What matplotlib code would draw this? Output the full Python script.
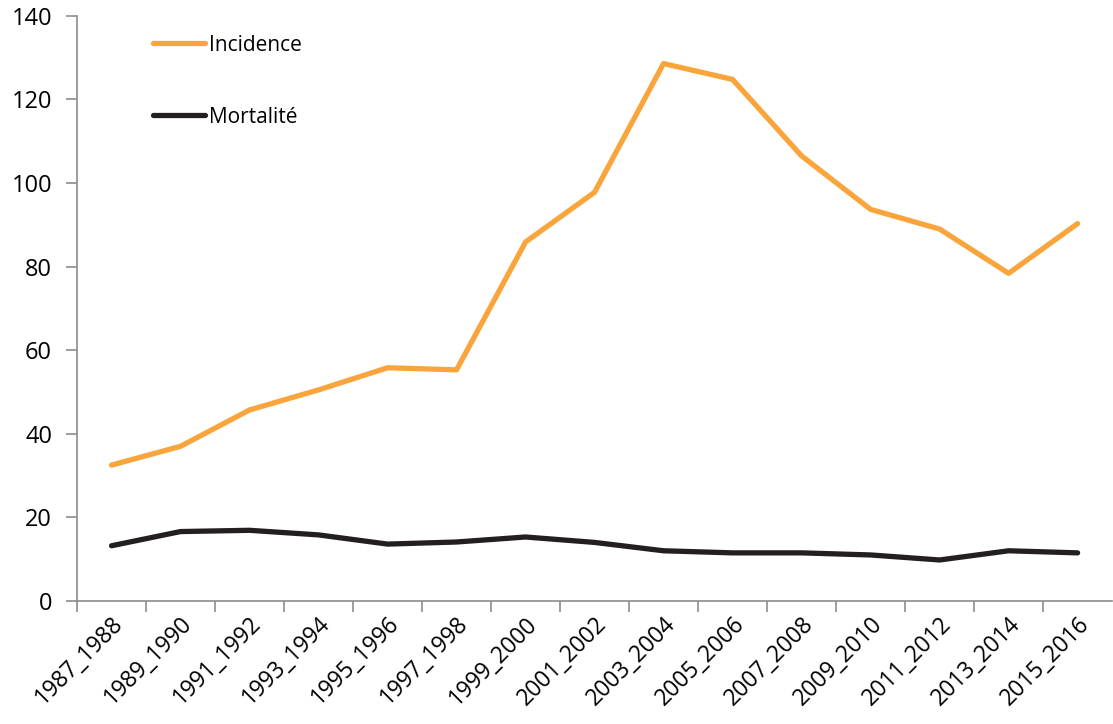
import matplotlib
matplotlib.use("Agg")
import matplotlib.pyplot as plt
import numpy as np

periodes = ["1987_1988", "1989_1990", "1991_1992", "1993_1994", "1995_1996",
            "1997_1998", "1999_2000", "2001_2002", "2003_2004", "2005_2006",
            "2007_2008", "2009_2010", "2011_2012", "2013_2014", "2015_2016"]
incidence = [32.5, 37.0, 45.7, 50.5, 55.8, 55.3, 85.9, 97.8, 128.6, 124.8,
             106.5, 93.7, 89.0, 78.4, 90.3]
mortalite = [13.2, 16.6, 16.9, 15.8, 13.6, 14.1, 15.3, 14.0, 12.0, 11.5,
             11.5, 11.0, 9.8, 12.0, 11.5]

plt.rcParams['font.family'] = ['Open Sans', 'DejaVu Sans']

fig = plt.figure(figsize=(11.13, 7.24), dpi=100)
ax = fig.add_axes([0.0692, 0.170, 0.930, 0.808])

x = np.arange(len(periodes))
ax.plot(x, incidence, color="#F9A53B", linewidth=3.8, label="Incidence",
        solid_joinstyle="round", solid_capstyle="round")
ax.plot(x, mortalite, color="#231F20", linewidth=3.8, label="Mortalité",
        solid_joinstyle="round", solid_capstyle="round")

# axes
ax.set_xlim(-0.5, len(periodes) - 0.5)
ax.set_ylim(0, 140)
ax.set_yticks(range(0, 141, 20))
ax.set_xticks(x)
ax.set_xticklabels(periodes, rotation=45, ha="right", rotation_mode="anchor")
ax.set_xticks(np.arange(-0.5, len(periodes) - 0.5, 1), minor=True)
ax.tick_params(axis="x", which="major", length=0, pad=8, labelsize=16.5)
ax.tick_params(axis="x", which="minor", length=8, width=1.2, color="#8c8c8c")
ax.tick_params(axis="y", length=8, width=1.2, color="#8c8c8c", labelsize=17, pad=10)

for s in ["top", "right"]:
    ax.spines[s].set_visible(False)
for s in ["left", "bottom"]:
    ax.spines[s].set_color("#8c8c8c")
    ax.spines[s].set_linewidth(1.2)

ax.legend(loc="upper left", bbox_to_anchor=(0.055, 1.0), frameon=False,
          fontsize=15, handlelength=2.5, handletextpad=0.2, labelspacing=2.45)

fig.savefig("out.png", dpi=100)
